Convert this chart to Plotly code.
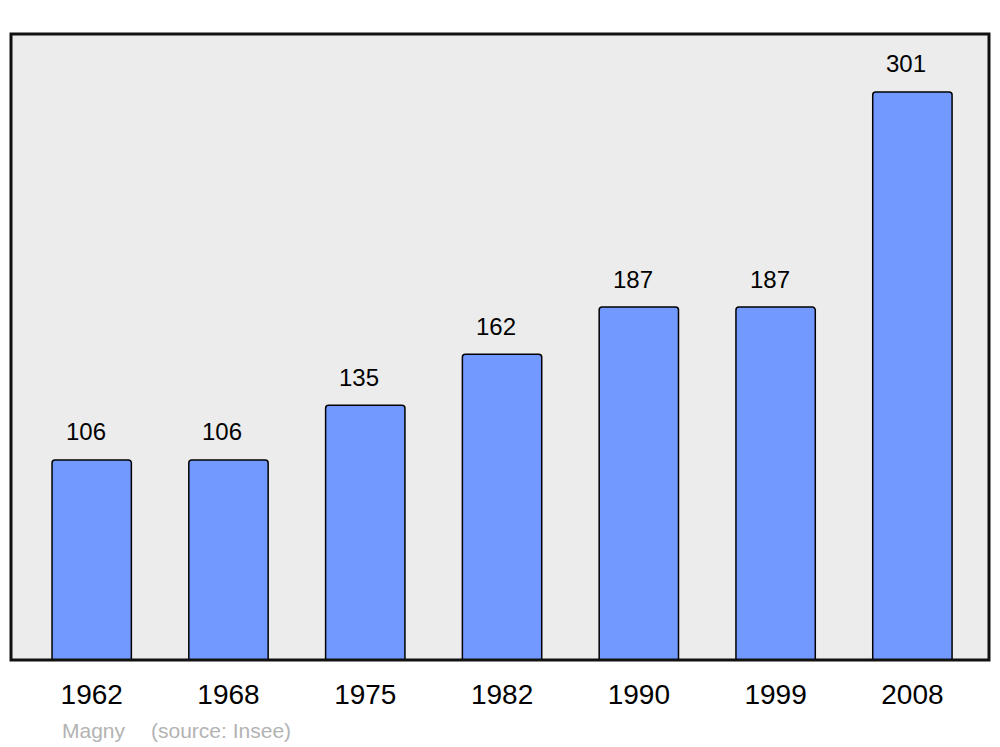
import plotly.graph_objects as go

years = ["1962", "1968", "1975", "1982", "1990", "1999", "2008"]
population = [106, 106, 135, 162, 187, 187, 301]
place = "Magny"
source = "(source: Insee)"

# page body has an 8px margin; compensate so the figure lands like the reference
W, H = 992, 739
L, R, T, B = 3, 11, 26, 87
plot_w = W - L - R
plot_h = H - T - B

fig = go.Figure()
fig.add_trace(go.Bar(
    x=list(range(len(years))), y=population, width=0.58,
    marker=dict(color="#7299ff", line=dict(color="#000000", width=1.5), cornerradius=3),
    hoverinfo="skip",
))

for i, v in enumerate(population):
    fig.add_annotation(x=i, y=v, xref="x", yref="y", text=str(v), showarrow=False,
                       yanchor="middle", yshift=28, xshift=-6,
                       font=dict(size=24, color="#000000", family="Liberation Sans"))

fig.add_annotation(xref="paper", yref="paper", x=(60 - 11) / plot_w, y=-(730 - 660) / plot_h,
                   xanchor="left", yanchor="middle", showarrow=False,
                   text=place, font=dict(size=21, color="#b3b3b3", family="Liberation Sans"))
fig.add_annotation(xref="paper", yref="paper", x=(149 - 11) / plot_w, y=-(730 - 660) / plot_h,
                   xanchor="left", yanchor="middle", showarrow=False,
                   text=source, font=dict(size=21, color="#b3b3b3", family="Liberation Sans"))

fig.add_shape(type="rect", xref="paper", yref="paper", x0=0, y0=0, x1=1, y1=1,
              line=dict(color="#111111", width=3), layer="above")

fig.update_layout(
    width=W, height=H,
    margin=dict(l=L, r=R, t=T, b=B, pad=0),
    paper_bgcolor="#ffffff", plot_bgcolor="#ececec",
    showlegend=False,
    font=dict(family="Liberation Sans", color="#000000"),
    xaxis=dict(range=[-0.59, 6.56], showgrid=False, zeroline=False,
               showline=False, ticks="", tickmode="array",
               tickvals=list(range(len(years))), ticktext=years,
               tickfont=dict(size=28, color="#000000"), ticklabelstandoff=15),
    yaxis=dict(range=[0, 331.7], showgrid=False, zeroline=False, showticklabels=False,
               showline=False, ticks=""),
)

fig.write_html("out.html")
